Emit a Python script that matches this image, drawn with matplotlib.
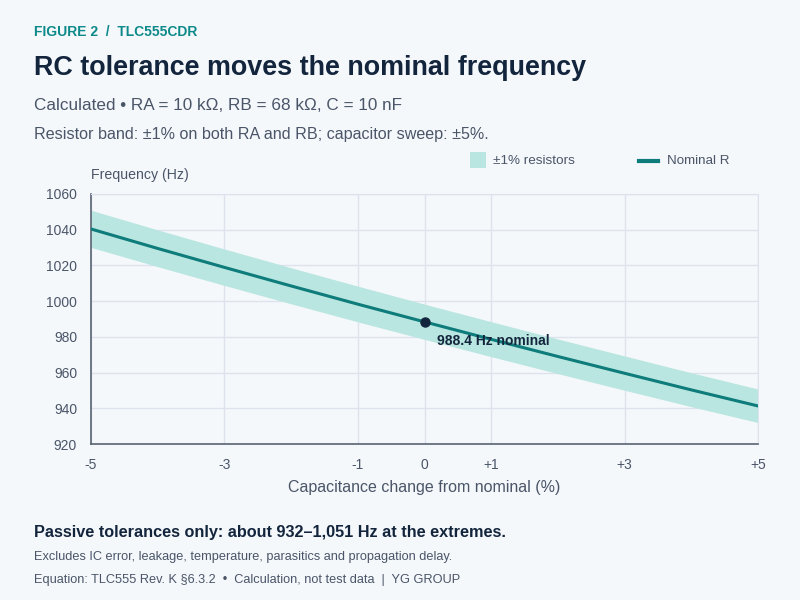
import matplotlib
matplotlib.use("Agg")
import matplotlib.pyplot as plt
from matplotlib.patches import Rectangle
from matplotlib.lines import Line2D

plt.rcParams['font.family'] = ['Liberation Sans', 'DejaVu Sans']

# ========== data ==========
cap_change = [-5, -4, -3, -2, -1, 0, 1, 2, 3, 4, 5]
freq_nominal = [1040.4, 1029.5, 1018.9, 1008.5, 998.3, 988.4, 978.6, 969.0, 959.6, 950.3, 941.3]
freq_upper = [1050.9, 1039.9, 1029.2, 1018.7, 1008.4, 998.3, 988.5, 978.8, 969.3, 959.9, 950.8]
freq_lower = [1030.1, 1019.3, 1008.8, 998.5, 988.4, 978.6, 968.9, 959.4, 950.1, 940.9, 932.0]
x_ticks = [-5, -3, -1, 0, 1, 3, 5]
x_tick_labels = ['-5', '-3', '-1', '0', '+1', '+3', '+5']
y_ticks = [920, 940, 960, 980, 1000, 1020, 1040, 1060]
nominal_x, nominal_f = 0, 988.4

BG = '#f5f8fb'
TEAL = '#0e7c7b'
BAND = '#b9e6e0'
NAVY = '#13253d'
GRAY = '#4a5568'
GRID = '#dde3ec'

fig = plt.figure(figsize=(8, 6), dpi=100, facecolor=BG)
ax = fig.add_axes([0.11375, 0.26, 0.83375, 0.4167], facecolor=BG)

ax.fill_between(cap_change, freq_lower, freq_upper, color=BAND, lw=0, zorder=2)
ax.plot(cap_change, freq_nominal, color=TEAL, lw=2.2, zorder=3)
ax.plot([nominal_x], [nominal_f], 'o', color=NAVY, ms=6.5, zorder=5)
ax.annotate(f"{nominal_f:.1f} Hz nominal", (nominal_x, nominal_f), xytext=(9, -19),
            textcoords='offset points', fontsize=10, fontweight='bold', color=NAVY,
            ha='left', va='bottom', zorder=6)

ax.set_xlim(-5, 5)
ax.set_ylim(920, 1060)
ax.set_xticks(x_ticks)
ax.set_xticklabels(x_tick_labels)
ax.set_yticks(y_ticks)
ax.grid(True, color=GRID, lw=1, zorder=0)
ax.tick_params(length=0, labelsize=10, labelcolor=GRAY, pad=10)
for side in ['top', 'right']:
    ax.spines[side].set_color(GRID)
for side in ['left', 'bottom']:
    ax.spines[side].set_color('#5a6372')
    ax.spines[side].set_linewidth(1.2)
ax.set_xlabel("Capacitance change from nominal (%)", fontsize=11.5, color=GRAY, labelpad=6)

# ========== text around the chart ==========
fig.text(34/800, 1 - 32/600, "FIGURE 2  /  TLC555CDR", fontsize=10, fontweight='bold',
         color='#0f8a8a', va='center')
fig.text(34/800, 1 - 68/600, "RC tolerance moves the nominal frequency", fontsize=19.4,
         fontweight='bold', color=NAVY, va='center')
fig.text(34/800, 1 - 105/600, "Calculated • RA = 10 kΩ, RB = 68 kΩ, C = 10 nF", fontsize=12.3,
         color=GRAY, va='center')
fig.text(34/800, 1 - 134/600, "Resistor band: ±1% on both RA and RB; capacitor sweep: ±5%.",
         fontsize=11.6, color=GRAY, va='center')
fig.text(91/800, 1 - 175/600, "Frequency (Hz)", fontsize=10.2, color=GRAY, va='center')

# legend
fig.patches.append(Rectangle((470/800, 1 - 168/600), 16/800, 16/600, transform=fig.transFigure,
                             facecolor=BAND, edgecolor='none'))
fig.text(493/800, 1 - 161/600, "±1% resistors", fontsize=9.7, color=GRAY, va='center')
fig.lines.append(Line2D([639/800, 658/800], [1 - 161/600, 1 - 161/600], transform=fig.transFigure,
                        color=TEAL, lw=3))
fig.text(667/800, 1 - 161/600, "Nominal R", fontsize=9.6, color=GRAY, va='center')

# footer
fig.text(34/800, 1 - 532/600, "Passive tolerances only: about 932–1,051 Hz at the extremes.",
         fontsize=11.7, fontweight='bold', color=NAVY, va='center')
fig.text(34/800, 1 - 557/600, "Excludes IC error, leakage, temperature, parasitics and propagation delay.",
         fontsize=9.2, color=GRAY, va='center')
fig.text(34/800, 1 - 580/600, "Equation: TLC555 Rev. K §6.3.2  •  Calculation, not test data  |  YG GROUP",
         fontsize=9.2, color=GRAY, va='center')

fig.savefig("out.png", dpi=100, facecolor=BG)
